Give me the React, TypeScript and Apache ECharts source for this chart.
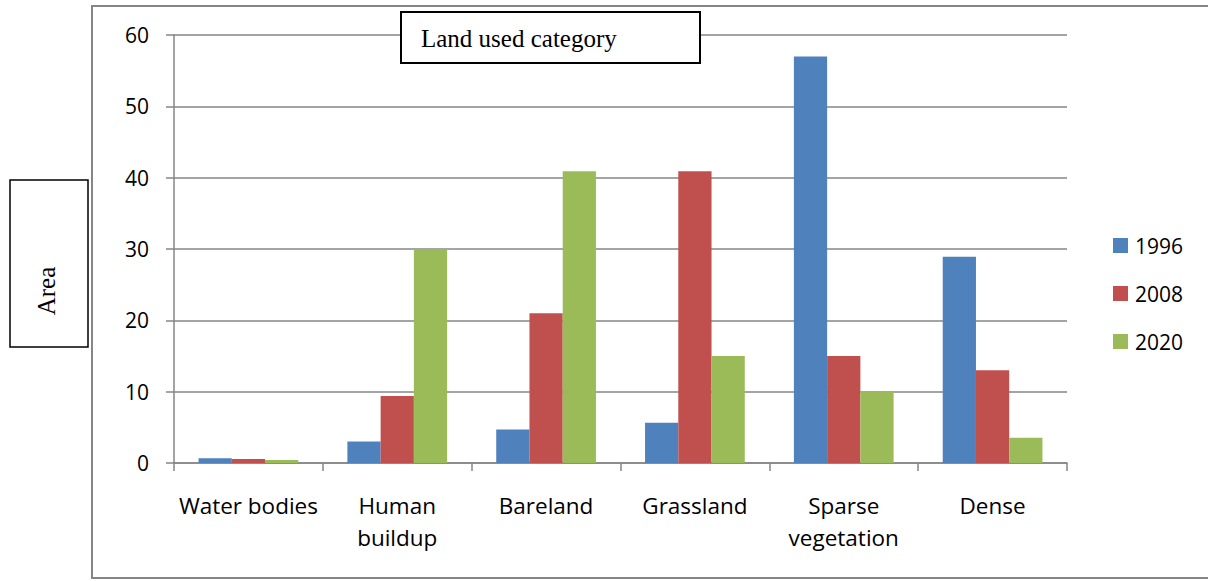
import React, { useEffect, useRef } from "react";
import * as echarts from "echarts";

const categories = ["Water bodies", "Human\nbuildup", "Bareland", "Grassland", "Sparse\nvegetation", "Dense"];
const years = ["1996", "2008", "2020"];
const values1996 = [0.66, 3.0, 4.7, 5.65, 57, 28.9];
const values2008 = [0.56, 9.4, 21, 40.9, 15, 13];
const values2020 = [0.42, 30, 40.9, 15, 10.1, 3.55];
const colors = ["#4f81bd", "#c0504d", "#9bbb59"];
const yTicks = { min: 0, max: 60, interval: 10 };

export default function App() {
  const ref = useRef<HTMLDivElement>(null);
  useEffect(() => {
    const chart = echarts.init(ref.current!, null, { renderer: "svg" });
    const seriesData = [values1996, values2008, values2020];
    const font = "'Open Sans', 'Noto Sans', sans-serif";
    const serif = "'Liberation Serif', 'DejaVu Serif', serif";
    chart.setOption({
      animation: false,
      backgroundColor: "#ffffff",
      grid: { left: 174, right: 141, top: 35, bottom: 118, containLabel: false },
      xAxis: {
        type: "category",
        data: categories,
        axisLine: { lineStyle: { color: "#868686", width: 1.5 } },
        axisTick: { show: true, length: 8, lineStyle: { color: "#868686", width: 1.5 } },
        axisLabel: { color: "#000", fontSize: 22.5, fontFamily: font, margin: 26, lineHeight: 32, interval: 0 },
      },
      yAxis: {
        type: "value",
        min: yTicks.min,
        max: yTicks.max,
        interval: yTicks.interval,
        axisLine: { show: true, lineStyle: { color: "#868686", width: 1.5 } },
        axisTick: { show: true, length: 8, lineStyle: { color: "#868686", width: 1.5 } },
        splitLine: { lineStyle: { color: "#868686", width: 1.5 } },
        axisLabel: { color: "#000", fontSize: 21, fontFamily: font, margin: 25 },
      },
      legend: {
        orient: "vertical",
        left: 1108,
        top: 230,
        itemWidth: 15,
        itemHeight: 15,
        itemGap: 27,
        icon: "rect",
        textStyle: { color: "#000", fontSize: 21, fontFamily: font, padding: [0, 0, 0, 2] },
        data: years,
      },
      series: years.map((y, i) => ({
        name: y,
        type: "bar",
        data: seriesData[i],
        itemStyle: { color: colors[i] },
        barGap: "0%",
        barCategoryGap: "33%",
      })),
      graphic: [
        {
          type: "rect",
          shape: { x: 92, y: 6, width: 1200, height: 572 },
          style: { fill: "none", stroke: "#868686", lineWidth: 2 },
          z: 100,
        },
        {
          type: "rect",
          shape: { x: 401, y: 12, width: 299, height: 51 },
          style: { fill: "#fff", stroke: "#000", lineWidth: 2 },
          z: 101,
        },
        {
          type: "text",
          x: 421,
          y: 38,
          style: { text: "Land used category", fontSize: 25, fontFamily: serif, fill: "#000", verticalAlign: "middle" },
          z: 102,
        },
        {
          type: "rect",
          shape: { x: 10, y: 180, width: 78, height: 167 },
          style: { fill: "#fff", stroke: "#000", lineWidth: 1.5 },
          z: 101,
        },
        {
          type: "text",
          x: 46,
          y: 291,
          rotation: Math.PI / 2,
          style: { text: "Area", fontSize: 25, fontFamily: serif, fill: "#000", align: "center", verticalAlign: "middle" },
          z: 102,
        },
      ],
    });
    return () => chart.dispose();
  }, []);
  return <div ref={ref} style={{ position: "fixed", left: 0, top: 0, width: 1208, height: 581 }} />;
}
